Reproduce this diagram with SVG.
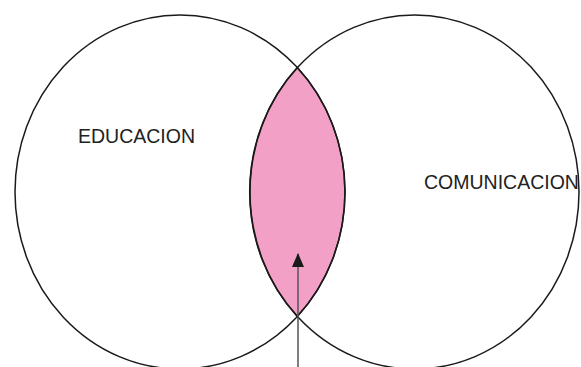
<svg xmlns="http://www.w3.org/2000/svg" width="581" height="367" viewBox="0 0 581 367">
<style>
.set{fill:none;stroke:#1a1a1a;stroke-width:1.5}
.lbl{font-family:"Liberation Sans",Arial,sans-serif;font-size:19.5px;fill:#222}
</style>
<defs>
<marker id="ah" viewBox="0 0 14 12" refX="13" refY="6" markerWidth="14" markerHeight="12" markerUnits="userSpaceOnUse" orient="auto">
<path d="M0 0 L14 6 L0 12 Z" fill="#1a1a1a"/>
</marker>
</defs>
<rect width="581" height="367" fill="#ffffff"/>
<g id="interseccion">
<path d="M297.25 67.5 A164.5 177 0 0 0 297.25 316.5 A165 177 0 0 0 297.25 67.5 Z" fill="#f3a0c6" stroke="#1a1a1a" stroke-width="1.5"/>
</g>
<g id="educacion">
<ellipse class="set" cx="180" cy="192" rx="165" ry="177"/>
<text class="lbl" x="78" y="143">EDUCACION</text>
</g>
<g id="comunicacion">
<ellipse class="set" cx="414.5" cy="192" rx="164.5" ry="177"/>
<text class="lbl" x="424" y="188.5">COMUNICACION</text>
</g>
<g id="connectors">
<line x1="298" y1="367" x2="298" y2="254" stroke="#555" stroke-width="1.5" marker-end="url(#ah)"/>
</g>
</svg>
